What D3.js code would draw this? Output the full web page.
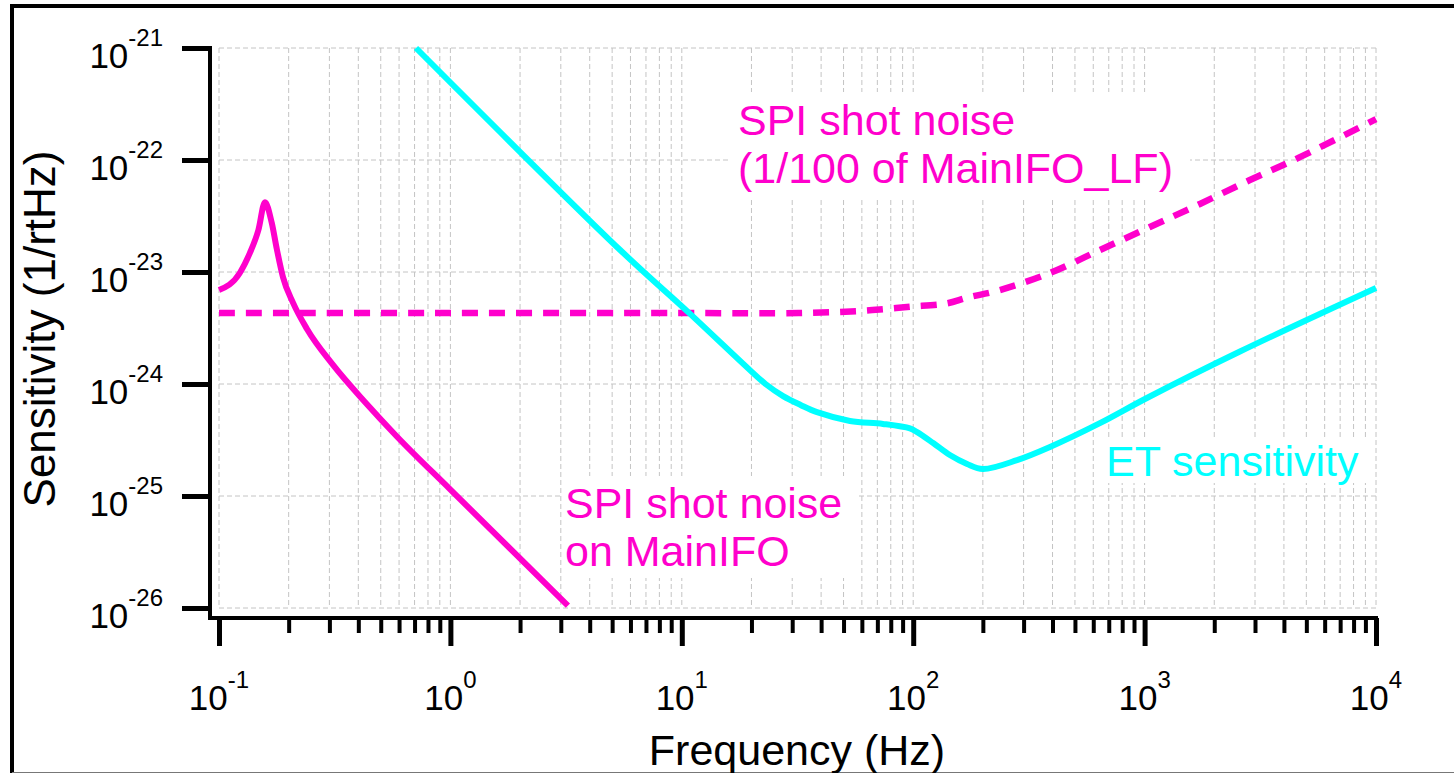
<!DOCTYPE html>
<html>
<head>
<meta charset="utf-8">
<script src="https://cdn.jsdelivr.net/npm/d3@7"></script>
<style>
  body { margin: 0; background: #fff; }
  svg { display: block; font-family: "Liberation Sans", Arial, Helvetica, sans-serif; }
</style>
</head>
<body>
<svg id="chart" width="1454" height="773"></svg>
<script>
// tick labels
const xDecades = [0.1, 1, 10, 100, 1000, 10000];
const xExps = ["-1", "0", "1", "2", "3", "4"];
const yDecades = [1e-21, 1e-22, 1e-23, 1e-24, 1e-25, 1e-26];
const yExps = ["-21", "-22", "-23", "-24", "-25", "-26"];

// SPI shot noise on MainIFO (solid magenta)
const mainFreq = [0.1, 0.123, 0.136, 0.148, 0.158, 0.169, 0.178, 0.189, 0.209, 0.240, 0.311, 0.436, 0.587, 1.0, 3.22];
const mainSens = [6.9e-24, 9.8e-24, 1.48e-23, 2.37e-23, 4.2e-23, 2.75e-23, 1.58e-23, 9.0e-24, 5.3e-24, 3.1e-24, 1.48e-24, 6.6e-25, 3.4e-25, 1.14e-25, 1.05e-26];

// SPI shot noise, 1/100 of MainIFO_LF (dashed magenta)
const shotFreq = [0.1, 1, 10, 32, 57, 76, 97, 140, 171, 237, 390, 641, 1054, 1734, 2851, 4689, 10000];
const shotSens = [4.3e-24, 4.3e-24, 4.3e-24, 4.3e-24, 4.47e-24, 4.68e-24, 4.9e-24, 5.25e-24, 5.9e-24, 6.9e-24, 9.8e-24, 1.57e-23, 2.52e-23, 4.05e-23, 6.62e-23, 1.06e-22, 2.32e-22];

// ET sensitivity (cyan)
const etFreq = [0.71, 5.4, 10.8, 19.7, 23, 27.4, 32.6, 38.4, 53.3, 74, 96.8, 104, 122, 144, 171, 200, 281, 390, 641, 1023, 2582, 10000];
const etSens = [1e-21, 1.58e-23, 4.27e-24, 1.33e-24, 1.0e-24, 7.8e-25, 6.5e-25, 5.6e-25, 4.68e-25, 4.4e-25, 4.01e-25, 3.72e-25, 2.97e-25, 2.32e-25, 1.93e-25, 1.74e-25, 2.09e-25, 2.74e-25, 4.47e-25, 7.5e-25, 1.95e-24, 7.2e-24];

const magenta = "#ff00cc";
const cyan = "#00ffff";

const svg = d3.select("#chart");

const x = d3.scaleLog().domain([0.1, 1e4]).range([219, 1376]);
const y = d3.scaleLog().domain([1e-26, 1e-21]).range([608, 48]);

// outer frame (cropped on the right)
svg.append("line").attr("x1", 12).attr("x2", 12).attr("y1", 4).attr("y2", 773)
  .attr("stroke", "#000").attr("stroke-width", 4);
svg.append("line").attr("x1", 10).attr("x2", 1454).attr("y1", 6).attr("y2", 6)
  .attr("stroke", "#000").attr("stroke-width", 4);
svg.append("line").attr("x1", 12).attr("x2", 1454).attr("y1", 772.5).attr("y2", 772.5)
  .attr("stroke", "#777").attr("stroke-width", 1);

// grid
const grid = svg.append("g").attr("stroke", "#c4c4c4").attr("stroke-width", 1)
  .attr("stroke-dasharray", "5,3");
grid.selectAll(".gx").data(x.ticks()).join("line")
  .attr("x1", d => x(d)).attr("x2", d => x(d))
  .attr("y1", y.range()[1]).attr("y2", y.range()[0]);
grid.selectAll(".gy").data(yDecades).join("line")
  .attr("x1", x.range()[0]).attr("x2", x.range()[1])
  .attr("y1", d => y(d)).attr("y2", d => y(d));

// white boxes behind the annotations
const boxes = [[730, 92, 1190, 197], [562, 476, 858, 578], [1100, 440, 1368, 483]];
svg.selectAll(".box").data(boxes).join("rect")
  .attr("x", d => d[0]).attr("y", d => d[1])
  .attr("width", d => d[2] - d[0]).attr("height", d => d[3] - d[1])
  .attr("fill", "#fff");

// axes
const axisY = 618, axisX = 210;
const gx = svg.append("g").attr("transform", `translate(0,${axisY})`)
  .call(d3.axisBottom(x).tickValues(x.ticks()).tickSize(15).tickFormat(""));
gx.select(".domain").remove();
gx.selectAll(".tick line").attr("stroke", "#000").attr("stroke-width", 4)
  .filter(d => xDecades.includes(d)).attr("y2", 28).attr("stroke-width", 5);

const gy = svg.append("g").attr("transform", `translate(${axisX},0)`)
  .call(d3.axisLeft(y).tickValues(yDecades).tickSize(28).tickFormat(""));
gy.select(".domain").remove();
gy.selectAll(".tick line").attr("stroke", "#000").attr("stroke-width", 5);

svg.append("path")
  .attr("d", `M${axisX},${y.range()[1] - 2}V${axisY}H${x.range()[1] + 2}`)
  .attr("fill", "none").attr("stroke", "#000").attr("stroke-width", 4);

// tick labels
const xl = svg.selectAll(".xl").data(xDecades).join("text")
  .attr("x", d => x(d)).attr("y", 710).attr("text-anchor", "middle")
  .attr("font-size", 35).attr("fill", "#000");
xl.append("tspan").text("10");
xl.append("tspan").attr("dy", -22).attr("font-size", 24).text((d, i) => xExps[i]);

const yl = svg.selectAll(".yl").data(yDecades).join("text")
  .attr("x", 163).attr("y", d => y(d) + 20).attr("text-anchor", "end")
  .attr("font-size", 35).attr("fill", "#000");
yl.append("tspan").text("10");
yl.append("tspan").attr("dy", -22).attr("font-size", 24).text((d, i) => yExps[i]);

// axis titles
svg.append("text").attr("x", 797).attr("y", 765).attr("text-anchor", "middle")
  .attr("font-size", 43).text("Frequency (Hz)");
svg.append("text").attr("transform", "translate(55,329) rotate(-90)")
  .attr("text-anchor", "middle").attr("font-size", 44).text("Sensitivity (1/rtHz)");

// curves
const zip = (a, b) => a.map((v, i) => [v, b[i]]);
const sharp = d3.line().x(d => x(d[0])).y(d => y(d[1])).curve(d3.curveMonotoneX);
const smooth = d3.line().x(d => x(d[0])).y(d => y(d[1])).curve(d3.curveCatmullRom.alpha(0.5));

svg.append("path").datum(zip(shotFreq, shotSens)).attr("d", smooth)
  .attr("fill", "none").attr("stroke", magenta).attr("stroke-width", 6.5)
  .attr("stroke-dasharray", "16,11");
svg.append("path").datum(zip(etFreq, etSens)).attr("d", smooth)
  .attr("fill", "none").attr("stroke", cyan).attr("stroke-width", 6);
svg.append("path").datum(zip(mainFreq, mainSens)).attr("d", sharp)
  .attr("fill", "none").attr("stroke", magenta).attr("stroke-width", 6);

// annotations
const note = (tx, ty, lines, color) => {
  const t = svg.append("text").attr("font-size", 43).attr("fill", color);
  lines.forEach((s, i) => t.append("tspan").attr("x", tx).attr("y", ty + i * 48).text(s));
};
note(738, 135, ["SPI shot noise", "(1/100 of MainIFO_LF)"], magenta);
note(565, 518, ["SPI shot noise", "on MainIFO"], magenta);
note(1106, 476, ["ET sensitivity"], cyan);
</script>
</body>
</html>
